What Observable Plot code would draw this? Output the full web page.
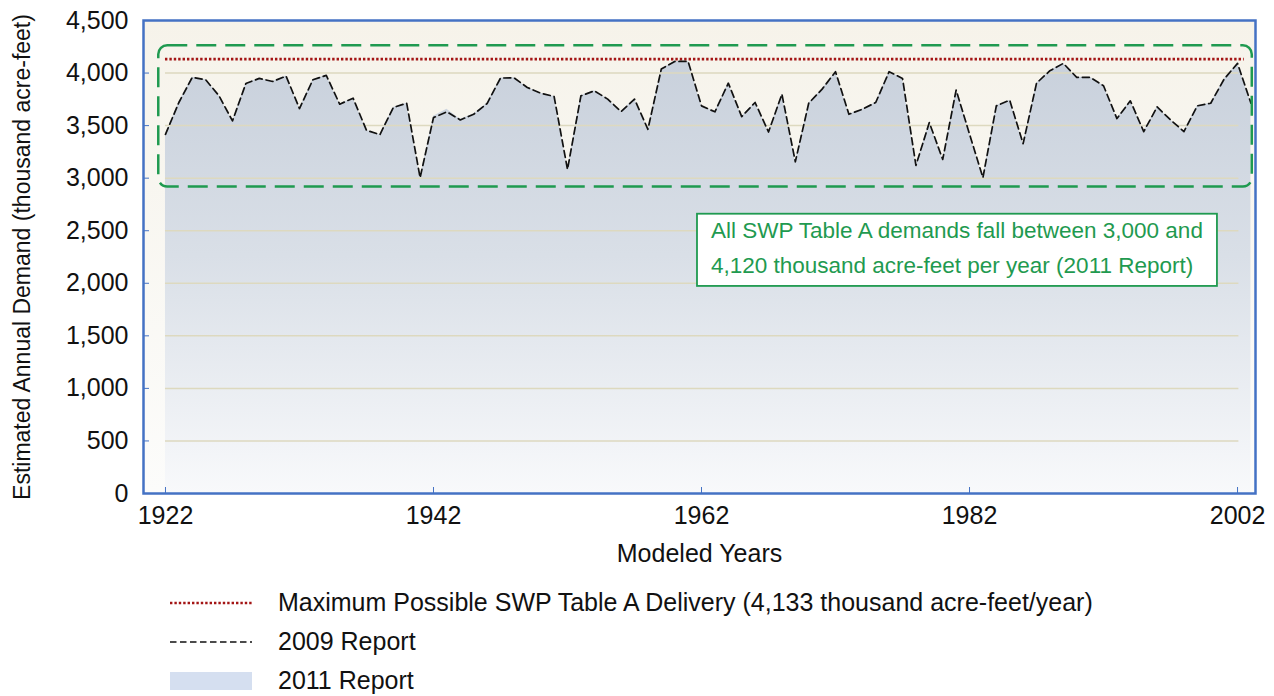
<!DOCTYPE html>
<html><head><meta charset="utf-8">
<script src="https://cdn.jsdelivr.net/npm/d3@7"></script>
<script src="https://cdn.jsdelivr.net/npm/@observablehq/plot@0.6"></script>
<style>
body{margin:0;background:#fff;font-family:"Liberation Sans",Arial,sans-serif;}
#legend{margin-left:170px;margin-top:8px;}
.row{display:flex;align-items:center;height:39px;font-size:25px;color:#111;}
.row svg{width:82px;height:20px;margin-right:26px;flex:none;}
</style></head><body>
<div id="chart"></div>
<div id="legend"></div>
<script>
// ---- data ----
const years = d3.range(1922, 2004);
const demand2009 = [
  3417, 3720, 3959, 3936, 3783, 3545, 3901, 3949, 3920, 3971,
  3662, 3936, 3978, 3704, 3761, 3455, 3414, 3672, 3713, 3005,
  3576, 3631, 3554, 3608, 3710, 3952, 3955, 3863, 3809, 3777,
  3083, 3783, 3831, 3752, 3634, 3752, 3465, 4038, 4111, 4111,
  3688, 3631, 3904, 3586, 3720, 3439, 3799, 3156, 3713, 3847,
  4013, 3608, 3656, 3720, 4013, 3949, 3121, 3529, 3178, 3838,
  3420, 3005, 3688, 3742, 3328, 3904, 4022, 4092, 3959, 3959,
  3879, 3567, 3736, 3443, 3678, 3554, 3443, 3688, 3713, 3943,
  4092, 3713
];
const demand2011 = [
  3417, 3720, 3959, 3936, 3783, 3545, 3901, 3949, 3920, 3971,
  3662, 3936, 3978, 3704, 3761, 3455, 3414, 3672, 3713, 3005,
  3590, 3655, 3560, 3610, 3712, 3952, 3955, 3863, 3809, 3777,
  3083, 3783, 3831, 3752, 3634, 3752, 3465, 4038, 4111, 4111,
  3688, 3631, 3904, 3586, 3720, 3439, 3799, 3156, 3713, 3847,
  4013, 3608, 3656, 3720, 4013, 3949, 3121, 3529, 3178, 3838,
  3420, 3005, 3688, 3742, 3328, 3904, 4022, 4092, 3959, 3959,
  3879, 3567, 3736, 3443, 3678, 3554, 3443, 3688, 3713, 3943,
  4092, 3713
];
const maxDelivery = 4133;
const yTicks = [0, 500, 1000, 1500, 2000, 2500, 3000, 3500, 4000, 4500];
const gridTicks = [500, 1000, 1500, 2000, 2500, 3000, 3500, 4000];
const xTicks = [1922, 1942, 1962, 1982, 2002];
const highlightBox = [{x1: 1921.5, x2: 2003.1, y1: 2915, y2: 4260}];
const noteBox = [{x1: 1961.7, x2: 2000.5, y1: 1970, y2: 2657}];
const noteText = [{x: 1962.7, y: 2367, text: "All SWP Table A demands fall between 3,000 and\n4,120 thousand acre-feet per year (2011 Report)"}];
const legendItems = ["Maximum Possible SWP Table A Delivery (4,133 thousand acre-feet/year)", "2009 Report", "2011 Report"];

const table = years.map((year, i) => ({year, v2009: demand2009[i], v2011: demand2011[i]}));

const blue = "#4472c4";
const green = "#1f9a50";

const defs = () => {
  const d = d3.create("svg:defs");
  const bg = d.append("linearGradient").attr("id", "bgGrad").attr("x1", 0).attr("x2", 0).attr("y1", 0).attr("y2", 1);
  bg.append("stop").attr("offset", "0%").attr("stop-color", "#f6f3ea");
  bg.append("stop").attr("offset", "100%").attr("stop-color", "#fcfcfb");
  const ar = d.append("linearGradient").attr("id", "areaGrad").attr("x1", 0).attr("x2", 0).attr("y1", 0).attr("y2", 1);
  ar.append("stop").attr("offset", "0%").attr("stop-color", "#c9d1dc");
  ar.append("stop").attr("offset", "45%").attr("stop-color", "#d9dfe7");
  ar.append("stop").attr("offset", "100%").attr("stop-color", "#f8f9fb");
  return d.node();
};

const chart = Plot.plot({
  width: 1274,
  height: 575,
  marginLeft: 143,
  marginRight: 19,
  marginTop: 20,
  marginBottom: 82,
  style: {fontFamily: "Liberation Sans, Arial, sans-serif", fontSize: "25px", background: "transparent"},
  x: {domain: [1920.36, 2003.34]},
  y: {domain: [0, 4500]},
  marks: [
    defs,
    Plot.frame({fill: "url(#bgGrad)", stroke: null}),
    Plot.areaY(table, {x: "year", y: "v2011", fill: "url(#areaGrad)"}),
    Plot.ruleY(gridTicks, {x1: 1922, x2: 2002.1, stroke: "#ddd9bf", strokeWidth: 1.5}),
    Plot.ruleY([maxDelivery], {x1: 1922, x2: 2002.5, stroke: "#a31515", strokeWidth: 2.6, strokeDasharray: "2.4 2"}),
    Plot.lineY(table, {x: "year", y: "v2009", stroke: "#111", strokeWidth: 1.7, strokeDasharray: "7 4"}),
    Plot.rect(highlightBox, {x1: "x1", x2: "x2", y1: "y1", y2: "y2", fill: "none", stroke: green, strokeWidth: 2.5, strokeDasharray: "20 9", rx: 9}),
    Plot.rect(noteBox, {x1: "x1", x2: "x2", y1: "y1", y2: "y2", fill: "#fff", stroke: green, strokeWidth: 1.8}),
    Plot.text(noteText, {x: "x", y: "y", text: "text", textAnchor: "start", lineAnchor: "middle", lineHeight: 1.56, fill: green, fontSize: 22.5}),
    Plot.axisY({ticks: yTicks, tickFormat: d3.format(","), tickSize: -6, tickPadding: 21, stroke: blue, fill: "#111", label: null, fontSize: 25}),
    Plot.axisX({ticks: xTicks, tickFormat: d => String(d), tickSize: -6, tickPadding: 19, stroke: blue, fill: "#111", label: null, fontSize: 25}),
    Plot.text(["Estimated Annual Demand (thousand acre-feet)"], {frameAnchor: "left", dx: -121, rotate: -90, textAnchor: "middle", lineAnchor: "middle", fill: "#111", fontSize: 23}),
    Plot.text(["Modeled Years"], {frameAnchor: "bottom", dy: 60, textAnchor: "middle", lineAnchor: "middle", fill: "#111", fontSize: 25}),
    Plot.frame({stroke: blue, strokeWidth: 2.5})
  ]
});
document.getElementById("chart").appendChild(chart);

const swatches = [
  '<svg viewBox="0 0 82 20"><line x1="0" x2="82" y1="10" y2="10" stroke="#a31515" stroke-width="2.6" stroke-dasharray="2.4 2"/></svg>',
  '<svg viewBox="0 0 82 20"><line x1="0" x2="82" y1="10" y2="10" stroke="#111" stroke-width="1.5" stroke-dasharray="6.5 3.5"/></svg>',
  '<svg viewBox="0 0 82 20"><rect x="0" y="1" width="82" height="18" fill="#d5dff0"/></svg>'
];
const legend = document.getElementById("legend");
legendItems.forEach((t, i) => {
  const row = document.createElement("div");
  row.className = "row";
  row.innerHTML = swatches[i] + "<span>" + t + "</span>";
  legend.appendChild(row);
});
</script>
</body></html>
